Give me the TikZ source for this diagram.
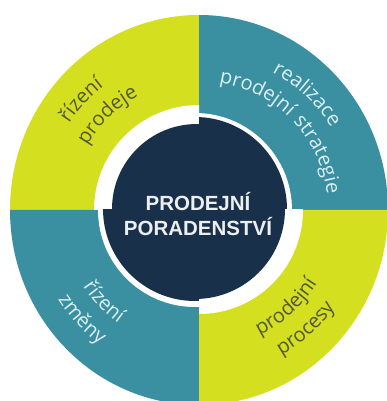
\documentclass[tikz,border=0pt]{standalone}
\usepackage{fontspec}
\setmainfont{Liberation Sans}
\newfontfamily\ringfont[LetterSpace=8]{Open Sans}
\usetikzlibrary{decorations.text}

\definecolor{ringlime}{HTML}{D3DF1F}
\definecolor{ringteal}{HTML}{3A8FA0}
\definecolor{hubnavy}{HTML}{19304A}
\definecolor{limetext}{HTML}{55573A}
\definecolor{tealtext}{HTML}{DCEFF3}

\newcommand{\labelfont}{\ringfont\fontsize{20}{20}\selectfont}

\tikzset{
    hub/.style={
        text=white!92!hubnavy,
        align=center,
        inner sep=0pt,
        font=\fontsize{20.5}{25}\selectfont\bfseries
    },
    ringlabel/.style 2 args={
        decorate,
        decoration={text along path, text align=center,
            text color=#1, text={|\labelfont|#2}}
    }
}

\begin{document}
\begin{tikzpicture}[x=1pt, y=1pt]
    \useasboundingbox (-199,-191) rectangle (188,210);
    \clip (-199,-191) rectangle (188,210);

    % Outer ring - four quarters
    \fill[ringlime] (0,0) -- (90:189 and 195) arc[start angle=90, end angle=180, x radius=189, y radius=195] -- cycle;
    \fill[ringteal] (0,0) -- (0:189 and 195) arc[start angle=0, end angle=90, x radius=189, y radius=195] -- cycle;
    \fill[ringteal] (0,0) -- (180:189 and 195) arc[start angle=180, end angle=270, x radius=189, y radius=195] -- cycle;
    \fill[ringlime] (0,0) -- (270:189 and 195) arc[start angle=270, end angle=360, x radius=189, y radius=195] -- cycle;

    % White gap and hub, each quarter on its own
    \begin{scope}
        \clip (0,0) rectangle (-120,120);
        \fill[white] (0,0) circle[radius=105];
        \fill[hubnavy] (-2,1) circle[radius=85];
    \end{scope}
    \begin{scope}
        \clip (0,0) rectangle (120,120);
        \fill[white] (-4,0) circle[radius=97];
        \fill[hubnavy] (-4,1) circle[radius=92];
    \end{scope}
    \begin{scope}
        \clip (0,0) rectangle (-120,-120);
        \fill[white] (-4,0) circle[radius=97];
        \fill[hubnavy] (-4,1) circle[radius=92];
    \end{scope}
    \begin{scope}
        \clip (0,0) rectangle (120,-120);
        \fill[white] (0,0) circle[radius=104];
        \fill[hubnavy] (-4,1) circle[radius=90];
    \end{scope}
    \node[hub] (hub) at (-1,-4) {PRODEJNÍ\\PORADENSTVÍ};

    % Labels along the ring
    \path[ringlabel={limetext}{řízení}] (207:156) arc[start angle=207, end angle=67, radius=156];
    \path[ringlabel={limetext}{prodeje}] (204:129) arc[start angle=204, end angle=64, radius=129];
    \path[ringlabel={tealtext}{realizace}] (117:156) arc[start angle=117, end angle=-23, radius=156];
    \path[ringlabel={tealtext}{prodejní strategie}] (124:129) arc[start angle=124, end angle=-36, radius=129];
    \path[ringlabel={tealtext}{řízení}] (154:139) arc[start angle=154, end angle=294, radius=139];
    \path[ringlabel={tealtext}{změny}] (153:167) arc[start angle=153, end angle=293, radius=167];
    \path[ringlabel={limetext}{prodejní}] (242:139) arc[start angle=242, end angle=382, radius=139];
    \path[ringlabel={limetext}{procesy}] (242:167) arc[start angle=242, end angle=382, radius=167];
\end{tikzpicture}
\end{document}
